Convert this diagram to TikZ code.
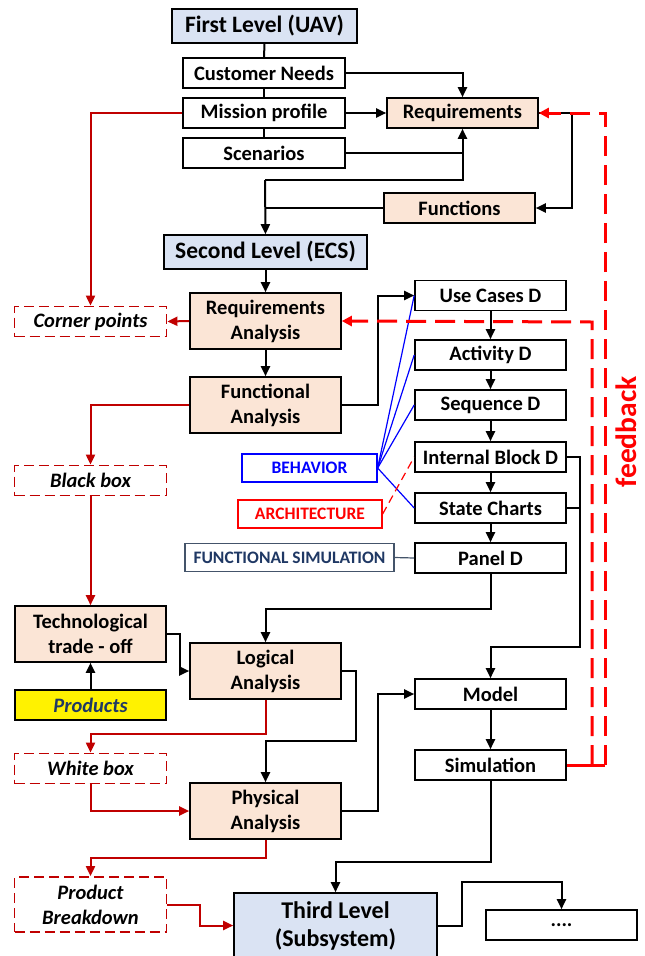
\documentclass[tikz,border=0pt]{standalone}
\usepackage{fontspec}
\setmainfont{Carlito}
\usetikzlibrary{arrows.meta}
\definecolor{lvlblue}{HTML}{DAE3F3}
\definecolor{peach}{HTML}{FBE5D6}
\definecolor{dred}{HTML}{C00000}
\definecolor{navy}{HTML}{1F3864}
\definecolor{slate}{HTML}{44546A}
\tikzset{
  stdbox/.style={draw=black, line width=1.6pt, fill=white, minimum width=151pt, minimum height=30pt,
    inner sep=0pt, align=center, font=\fontsize{20.5}{25}\selectfont\bfseries},
  lvlbox/.style={stdbox, fill=lvlblue, minimum height=34pt, font=\fontsize{23.5}{28}\selectfont\bfseries},
  anbox/.style={stdbox, fill=peach, minimum height=56pt},
  resbox/.style={stdbox, draw=dred, line width=1.8pt, dash pattern=on 10pt off 5pt, minimum width=152pt,
    font=\fontsize{20.5}{25}\selectfont\bfseries\itshape},
  tagbox/.style={draw, line width=1.3pt, fill=white, minimum height=28pt, inner sep=0pt,
    font=\fontsize{17.5}{20}\selectfont\bfseries},
  arr/.style={line width=2pt, -{Triangle[length=10pt,width=9pt]}},
  rarr/.style={arr, draw=dred, -{Triangle[length=10pt,width=9pt,fill=dred]}},
  fbline/.style={draw=red, line width=3pt, dash pattern=on 20pt off 9pt}
}
\begin{document}
\begin{tikzpicture}[x=1pt,y=-1pt]
  \useasboundingbox (0,0) rectangle (645,956);

  %%%%% first level %%%%%
  \node[lvlbox, minimum width=185pt] (first) at (264.5,26) {First Level (UAV)};
  \node[stdbox, minimum width=162pt] (needs) at (264,73) {Customer Needs};
  \node[stdbox, minimum width=162pt] (mission) at (264,113) {Mission profile};
  \node[stdbox, minimum width=162pt] (scen) at (264,153) {Scenarios};
  \node[stdbox, fill=peach] (req) at (462.5,113) {Requirements};
  \node[stdbox, fill=peach] (func) at (459.5,208) {Functions};
  \coordinate (j1) at (265,180);

  %%%%% second level %%%%%
  \node[lvlbox, minimum width=203pt] (second) at (265.5,252) {Second Level (ECS)};
  \node[anbox] (reqan) at (265.5,321) {Requirements\\Analysis};
  \node[anbox] (funan) at (265.5,405) {Functional\\Analysis};
  \node[resbox] (corner) at (90.5,321.5) {Corner points};
  \node[resbox] (black) at (90.5,480.5) {Black box};

  \node[stdbox] (usecase) at (490.5,295.5) {Use Cases D};
  \node[stdbox] (activity) at (490.5,355) {Activity D};
  \node[stdbox] (sequence) at (490.5,405) {Sequence D};
  \node[stdbox] (ibd) at (490.5,457) {Internal Block D};
  \node[stdbox] (state) at (490.5,508) {State Charts};
  \node[stdbox] (panel) at (490.5,558) {Panel D};

  \node[tagbox, draw=blue, text=blue, minimum width=135pt] (behavior) at (309.5,468) {BEHAVIOR};
  \node[tagbox, draw=red, text=red, minimum width=144pt] (arch) at (310,514) {ARCHITECTURE};
  \node[tagbox, draw=slate, text=navy, minimum width=209pt] (funsim) at (289.5,557.5) {FUNCTIONAL SIMULATION};

  \node[anbox] (trade) at (90.5,634) {Technological\\trade - off};
  \node[stdbox, fill=yellow, text=navy, font=\fontsize{20.5}{25}\selectfont\bfseries\itshape] (products) at (90.5,705) {Products};
  \node[anbox] (logan) at (265.5,671) {Logical\\Analysis};
  \node[stdbox] (model) at (490.5,694) {Model};
  \node[resbox] (white) at (90.5,768.5) {White box};
  \node[anbox] (phys) at (265.5,811) {Physical\\Analysis};
  \node[stdbox] (sim) at (490.5,765) {Simulation};
  \node[resbox, minimum height=55pt] (prodbr) at (90.5,904.5) {Product\\Breakdown};

  %%%%% third level %%%%%
  \node[lvlbox, minimum width=203pt, minimum height=65pt, font=\fontsize{24}{28}\selectfont\bfseries] (third) at (335.5,925.5) {Third Level\\(Subsystem)};
  \node[stdbox] (dots) at (561.5,925) {....};

  \node[rotate=90, text=red, font=\fontsize{29.5}{34}\selectfont\bfseries] (fbtext) at (626,432) {feedback};

  %%%%% connections top %%%%%
  \draw[line width=2pt] (first.south) -- (needs.north);
  \draw[line width=2pt] (needs.south) -- (mission.north);
  \draw[line width=2pt] (mission.south) -- (scen.north);
  \draw[arr] (needs.east) -| (req.north);
  \draw[arr] (mission.east) -- (req.west);
  \draw[line width=2pt] (scen.east) -- (scen.east -| req.south);
  \draw[arr] (j1) -| (req.south);
  \draw[line width=2pt] (func.west) -- (func.west -| j1);
  \draw[arr] (j1) -- (second.north);
  \draw[arr] (req.east) -- ++(33,0) |- (func.east);

  %%%%% connections second level %%%%%
  \draw[arr] (second.south) -- (reqan.north);
  \draw[arr] (reqan.south) -- (funan.north);
  \draw[rarr] (reqan.west) -- (corner.east);
  \draw[rarr] (mission.west) -| (corner.north);
  \draw[rarr] (funan.west) -| (black.north);
  \draw[rarr] (black.south) -- (trade.north);
  \draw[arr] (funan.east) -- ++(36,0) |- (usecase.west);

  \draw[arr] (usecase.south) -- (activity.north);
  \draw[arr] (activity.south) -- (sequence.north);
  \draw[arr] (sequence.south) -- (ibd.north);
  \draw[arr] (ibd.south) -- (state.north);
  \draw[arr] (state.south) -- (panel.north);
  \draw[arr] (ibd.east) -| (580,647) -| (model.north);
  \draw[line width=2pt] (state.east) -- (580,508);

  \draw[blue, line width=1.2pt] (behavior.east) -- (usecase.west);
  \draw[blue, line width=1.2pt] (behavior.east) -- (activity.west);
  \draw[blue, line width=1.2pt] (behavior.east) -- (sequence.west);
  \draw[blue, line width=1.2pt] (behavior.east) -- (state.west);
  \draw[red, line width=1.2pt, dash pattern=on 8pt off 5pt] (arch.east) -- (ibd.west);
  \draw[slate, line width=1.2pt] (funsim.east) -- (panel.west);

  \draw[arr] (panel.south) -- ++(0,35) -| (logan.north);
  \draw[arr] (trade.east) -- ++(13,0) |- (logan.west);
  \draw[arr] (products.north) -- (trade.south);
  \draw[arr] (logan.east) -- ++(14,0) -- ++(0,70) -| (phys.north);
  \draw[rarr] (logan.south) -- ++(0,34) -| (white.north);
  \draw[rarr] (white.south) |- (phys.west);
  \draw[arr] (phys.east) -- ++(36,0) |- (model.west);
  \draw[arr] (model.south) -- (sim.north);
  \draw[arr] (sim.south) -- ++(0,81) -| (third.north);
  \draw[rarr] (phys.south) -- ++(0,18) -| (prodbr.north);
  \draw[rarr] (prodbr.east) -- ++(33,0) |- (third.west);
  \draw[arr] (third.east) -- ++(24,0) -- ++(0,-44) -| (dots.north);

  %%%%% feedback %%%%%
  \draw[red, line width=3pt] (sim.east) -- (605,765);
  \draw[fbline, -{Triangle[length=10pt,width=10pt,fill=red]}] (605,765) -- (605,113) -- (req.east);
  \draw[fbline, -{Triangle[length=10pt,width=10pt,fill=red]}] (592,765) -- (592,322) -- (reqan.east);
\end{tikzpicture}
\end{document}
